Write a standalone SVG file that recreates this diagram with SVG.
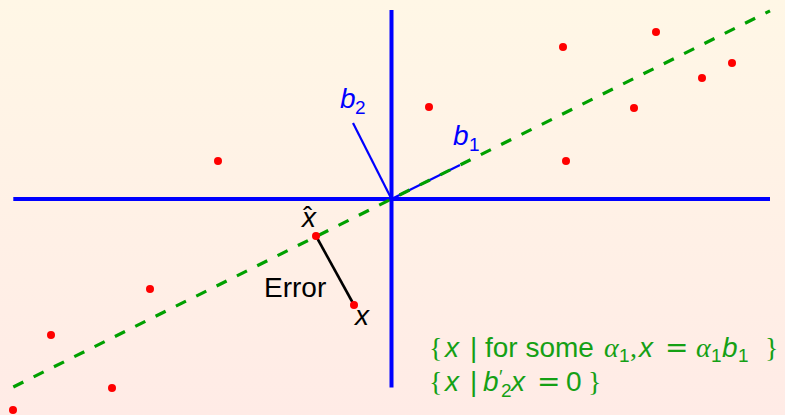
<svg xmlns="http://www.w3.org/2000/svg" width="785" height="415" viewBox="0 0 785 415">
<defs>
<linearGradient id="bg" x1="0" y1="0" x2="0" y2="1">
<stop offset="0" stop-color="#fff7e6"/>
<stop offset="1" stop-color="#ffebe6"/>
</linearGradient>
</defs>
<style>
.axis{stroke:#0000ff;stroke-width:4;fill:none}
.vec{stroke:#0000ff;stroke-width:2.2;fill:none}
.fit{stroke:#00a000;stroke-width:3.2;stroke-dasharray:11.2 11.5;fill:none}
.err{stroke:#000;stroke-width:2.6}
.pt{fill:#ff0000}
.lbl{font-family:"Liberation Sans",Arial,sans-serif;font-size:28px}
.blue{fill:#0000ff}
.green{fill:#15a015}
.it{font-style:italic}
.ser{font-family:"Liberation Serif","Times New Roman",serif}
.dser{font-family:"DejaVu Serif",serif}
.sub{font-size:19px;font-style:normal}
</style>
<rect x="0" y="0" width="785" height="415" fill="url(#bg)"/>
<g id="axes">
<line class="axis" x1="13.3" y1="199" x2="770" y2="199"/>
<line class="axis" x1="391.5" y1="10" x2="391.5" y2="387.5"/>
</g>
<g id="connectors">
<line class="vec" x1="391.5" y1="199" x2="460" y2="165"/>
<line class="vec" x1="391.5" y1="199" x2="353" y2="123"/>
<line class="fit" x1="13.3" y1="387" x2="770" y2="10.9"/>
<line class="err" x1="316" y1="236" x2="354" y2="305"/>
</g>
<g id="points">
<circle class="pt" cx="563" cy="47" r="4"/>
<circle class="pt" cx="656" cy="32" r="4"/>
<circle class="pt" cx="702" cy="78" r="4"/>
<circle class="pt" cx="732" cy="63" r="4"/>
<circle class="pt" cx="634" cy="108" r="4"/>
<circle class="pt" cx="566" cy="161" r="4"/>
<circle class="pt" cx="429" cy="107" r="4"/>
<circle class="pt" cx="218" cy="161" r="4"/>
<circle class="pt" cx="150" cy="289" r="4"/>
<circle class="pt" cx="51" cy="335" r="4"/>
<circle class="pt" cx="112" cy="388" r="4"/>
<circle class="pt" cx="13" cy="410" r="4"/>
<circle class="pt" cx="316" cy="236" r="4"/>
<circle class="pt" cx="354" cy="305" r="4"/>
</g>
<g id="label-b1"><text class="lbl blue it" x="453" y="145">b<tspan class="sub" x="469" y="151">1</tspan></text></g>
<g id="label-b2"><text class="lbl blue it" x="340" y="108">b<tspan class="sub" x="355" y="114">2</tspan></text></g>
<g id="label-xhat"><text class="lbl it" x="302" y="227" font-size="26">x</text><text class="lbl" x="303" y="226" font-size="24">ˆ</text></g>
<g id="label-x"><text class="lbl it" x="355" y="325">x</text></g>
<g id="label-error"><text class="lbl" x="264" y="297">Error</text></g>
<g id="set1"><text class="lbl green" y="357"><tspan class="ser" x="429">{</tspan><tspan class="it" x="445">x</tspan><tspan x="470">|</tspan><tspan x="485">for some</tspan><tspan class="ser it" x="604">α</tspan><tspan class="sub" x="619" y="362">1</tspan><tspan class="ser" x="630" y="357">,</tspan><tspan class="it" x="639">x</tspan><tspan class="dser" x="665">=</tspan><tspan class="ser it" x="696">α</tspan><tspan class="sub" x="711" y="362">1</tspan><tspan class="it" x="722" y="357">b</tspan><tspan class="sub" x="738" y="362">1</tspan><tspan class="ser" x="765" y="357">}</tspan></text></g>
<g id="set2"><text class="lbl green" y="391"><tspan class="ser" x="429">{</tspan><tspan class="it" x="445">x</tspan><tspan x="470">|</tspan><tspan class="it" x="483">b</tspan><tspan class="sub" x="499" y="383">′</tspan><tspan class="sub" x="501" y="397">2</tspan><tspan class="it" x="511" y="391">x</tspan><tspan class="dser" x="537">=</tspan><tspan x="566">0</tspan><tspan class="ser" x="588">}</tspan></text></g>
</svg>
